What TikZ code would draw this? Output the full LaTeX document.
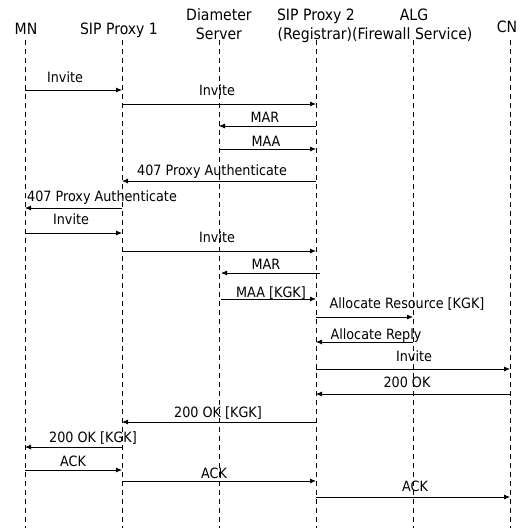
\documentclass[tikz,border=0pt]{standalone}
\usepackage{fontspec}
\setmainfont{DejaVu Sans}[FakeStretch=0.9]
\usetikzlibrary{arrows.meta}
\begin{document}
\begin{tikzpicture}[x=1pt,y=-1pt,
  lifeline/.style={line width=0.9pt,dash pattern=on 5pt off 4pt},
  msg/.style={line width=0.8pt,-{Latex[length=6pt,width=5pt]}},
  lbl/.style={font=\fontsize{14.2}{15}\selectfont,inner sep=0pt,anchor=base},
  hdr/.style={font=\fontsize{15.6}{16}\selectfont,inner sep=0pt,anchor=base}]
\useasboundingbox (0,0) rectangle (525,528);
% headers (baseline positions)
\node[hdr] (hMN) at (26,34) {MN};
\node[hdr] (hP1) at (119,34) {SIP Proxy 1};
\node[hdr] (hD1) at (219,20) {Diameter};
\node[hdr] (hD2) at (219,39) {Server};
\node[hdr] (hP2) at (316,20) {SIP Proxy 2};
\node[hdr] (hRF) at (375,39) {(Registrar)(Firewall Service)};
\node[hdr] (hALG) at (414,20) {ALG};
\node[hdr] (hCN) at (507,32) {CN};
% lifelines
\foreach \n/\x in {MN/25,PA/122,DS/219,PB/316,AL/413,CN/510}{
  \coordinate (\n t) at (\x,40);
  \coordinate (\n b) at (\x,528);
  \draw[lifeline] (\n t) -- (\n b);
}
% messages: from x, to x, y, label, label x, label baseline, name
\newcommand{\mymsg}[7]{%
  \coordinate (#7s) at (#1,#3);
  \coordinate (#7e) at (#2,#3);
  \draw[msg] (#7s) -- (#7e);
  \node[lbl] (#7l) at (#5,#6) {#4};
}
\mymsg{25}{122}{90}{Invite}{65}{82}{m1}
\mymsg{122}{316}{104}{Invite}{217}{95}{m2}
\mymsg{316}{219}{126}{MAR}{265}{122}{m3}
\mymsg{219}{316}{149}{MAA}{266}{146}{m4}
\mymsg{316}{122}{181}{407 Proxy Authenticate}{212}{175}{m5}
\mymsg{122}{25}{208}{407 Proxy Authenticate}{102}{201}{m6}
\mymsg{25}{122}{233}{Invite}{71}{224}{m7}
\mymsg{122}{316}{251}{Invite}{217}{242}{m8}
\mymsg{320}{221}{273}{MAR}{266}{269}{m9}
\mymsg{221}{316}{299}{MAA [KGK]}{271}{297}{m10}
\mymsg{316}{413}{317}{Allocate Resource [KGK]}{407}{308}{m11}
\mymsg{413}{316}{342}{Allocate Reply}{376}{339}{m12}
\mymsg{316}{510}{369}{Invite}{414}{361}{m13}
\mymsg{510}{316}{394}{200 OK}{407}{387}{m14}
\mymsg{316}{122}{422}{200 OK [KGK]}{218}{417}{m15}
\mymsg{122}{25}{447}{200 OK [KGK]}{93}{442}{m16}
\mymsg{25}{122}{470}{ACK}{73}{466}{m17}
\mymsg{122}{316}{481}{ACK}{214}{478}{m18}
\mymsg{316}{510}{497}{ACK}{415}{491}{m19}
\end{tikzpicture}
\end{document}
